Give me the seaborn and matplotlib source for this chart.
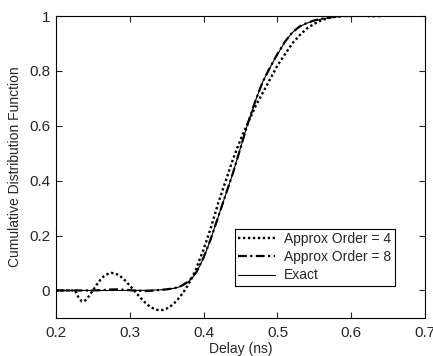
import numpy as np
import pandas as pd
import seaborn as sns
import matplotlib.pyplot as plt

# values
exact_x = [0.20, 0.25, 0.30, 0.33, 0.34, 0.35, 0.36, 0.365, 0.37, 0.375, 0.38, 0.385,
           0.39, 0.395, 0.40, 0.405, 0.41, 0.415, 0.42, 0.425, 0.43, 0.435, 0.44,
           0.445, 0.45, 0.455, 0.46, 0.465, 0.47, 0.475, 0.48, 0.485, 0.49, 0.495,
           0.50, 0.505, 0.51, 0.515, 0.52, 0.525, 0.53, 0.535, 0.54, 0.55, 0.56,
           0.57, 0.58, 0.59, 0.60, 0.62, 0.64]
exact_y = [0.0, 0.0, 0.0, 0.001, 0.002, 0.004, 0.008, 0.011, 0.016, 0.023, 0.033, 0.047,
           0.066, 0.09, 0.12, 0.153, 0.19, 0.23, 0.27, 0.31, 0.35, 0.39, 0.43,
           0.475, 0.52, 0.565, 0.61, 0.65, 0.69, 0.725, 0.76, 0.787, 0.812, 0.837,
           0.86, 0.883, 0.905, 0.923, 0.939, 0.951, 0.961, 0.968, 0.974, 0.983, 0.989,
           0.994, 0.997, 0.999, 1.0, 1.0, 1.0]

order8_x = [0.20, 0.25, 0.26, 0.27, 0.28, 0.29, 0.30, 0.31, 0.32, 0.33, 0.34, 0.35,
            0.36, 0.37, 0.38, 0.39, 0.40, 0.41, 0.42, 0.43, 0.44, 0.45, 0.46, 0.47,
            0.48, 0.49, 0.50, 0.51, 0.52, 0.53, 0.54, 0.55, 0.56, 0.57, 0.58, 0.59,
            0.60, 0.62, 0.64]
order8_y = [0.0, 0.0, 0.001, 0.003, 0.004, 0.003, 0.001, -0.001, -0.002, -0.001, 0.002, 0.004,
            0.008, 0.017, 0.034, 0.066, 0.12, 0.19, 0.27, 0.35, 0.43, 0.52, 0.61, 0.69,
            0.76, 0.813, 0.862, 0.906, 0.94, 0.962, 0.975, 0.984, 0.99, 0.995, 0.998, 1.0,
            1.0, 1.001, 1.0]

order4_x = [0.200, 0.220, 0.226, 0.230, 0.235, 0.240, 0.245, 0.250, 0.255, 0.260, 0.265,
            0.270, 0.275, 0.280, 0.285, 0.290, 0.295, 0.300, 0.305, 0.310, 0.315, 0.320,
            0.325, 0.330, 0.335, 0.340, 0.345, 0.350, 0.355, 0.360, 0.365, 0.370, 0.375,
            0.380, 0.385, 0.390, 0.40, 0.41, 0.42, 0.43, 0.44, 0.45, 0.46, 0.47, 0.48,
            0.49, 0.50, 0.51, 0.52, 0.53, 0.54, 0.55, 0.56, 0.57, 0.58, 0.59, 0.60,
            0.61, 0.62, 0.63, 0.64]
order4_y = [0.0, 0.0, 0.0, -0.022, -0.040, -0.036, -0.020, 0.000, 0.020, 0.038, 0.052,
            0.060, 0.064, 0.062, 0.056, 0.046, 0.033, 0.018, 0.003, -0.013, -0.028, -0.042,
            -0.054, -0.063, -0.069, -0.072, -0.071, -0.066, -0.058, -0.047, -0.033, -0.016, 0.003,
            0.025, 0.05, 0.08, 0.15, 0.23, 0.32, 0.40, 0.48, 0.55, 0.61, 0.67, 0.72,
            0.77, 0.82, 0.86, 0.90, 0.93, 0.955, 0.972, 0.985, 0.993, 0.998, 1.0, 1.002,
            1.002, 1.0, 0.999, 1.0]

labels = ['Approx Order = 4', 'Approx Order = 8', 'Exact']
x_ticks = [0.2, 0.3, 0.4, 0.5, 0.6, 0.7]
y_ticks = [0, 0.2, 0.4, 0.6, 0.8, 1]
y_tick_labels = ['0', '0.2', '0.4', '0.6', '0.8', '1']

sns.set_style('ticks')
plt.rcParams['font.family'] = ['Liberation Sans', 'DejaVu Sans']
plt.rcParams['xtick.direction'] = 'in'
plt.rcParams['ytick.direction'] = 'in'

fig = plt.figure(figsize=(4.33, 3.56), dpi=100)
ax = fig.add_axes([0.129, 0.107, 0.853, 0.848])

sns.lineplot(x=order4_x, y=order4_y, ax=ax, color='black', lw=1.7,
             linestyle=(0, (1, 1.1)), label=labels[0])
sns.lineplot(x=order8_x, y=order8_y, ax=ax, color='black', lw=1.6,
             linestyle=(0, (4, 1.5, 1, 1.5)), label=labels[1])
sns.lineplot(x=exact_x, y=exact_y, ax=ax, color='black', lw=0.8,
             linestyle='-', label=labels[2])

ax.set_xlim(0.2, 0.7)
ax.set_ylim(-0.1, 1.0)
ax.set_xticks(x_ticks)
ax.set_xticklabels([str(t) for t in x_ticks])
ax.set_yticks(y_ticks)
ax.set_yticklabels(y_tick_labels)
ax.tick_params(top=True, right=True, length=4, width=0.8, labelsize=11)
ax.tick_params(axis='x', pad=6)
ax.tick_params(axis='y', pad=4)
for s in ax.spines.values():
    s.set_linewidth(0.8)
    s.set_color('black')

ax.set_xlabel('Delay (ns)', fontsize=10, labelpad=1)
ax.set_ylabel('Cumulative Distribution Function', fontsize=10, labelpad=5)

leg = ax.legend(loc='lower left', bbox_to_anchor=(0.485, 0.106), fontsize=10,
                frameon=True, fancybox=False, edgecolor='black', framealpha=1,
                handlelength=2.6, labelspacing=0.3, borderpad=0.25, handletextpad=0.7,
                borderaxespad=0)
leg.get_frame().set_linewidth(0.8)

fig.savefig('out.png', dpi=100)
